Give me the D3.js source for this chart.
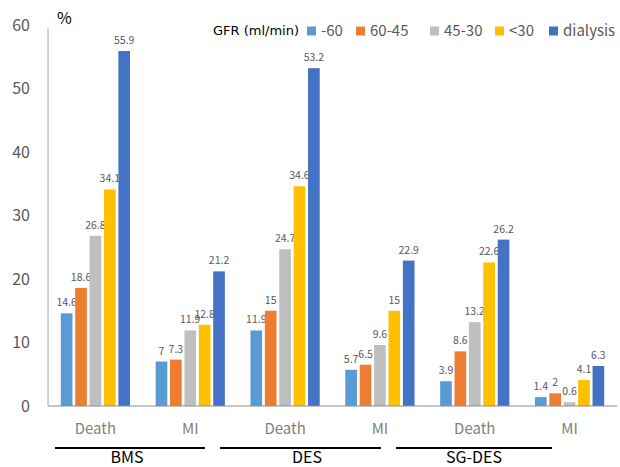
<!DOCTYPE html>
<html><head><meta charset="utf-8">
<script src="https://cdn.jsdelivr.net/npm/d3@7"></script>
<style>body{margin:0;background:#fff}svg{display:block}</style>
</head><body><svg id="c" width="620" height="467"></svg>
<script>
const categories = ["Death","MI","Death","MI","Death","MI"];
const groups = ["BMS","DES","SG-DES"];
const seriesNames = ["-60","60-45","45-30","<30","dialysis"];
const colors = ["#5B9BD5","#ED7D31","#BFBFBF","#FFC000","#4472C4"];
const values = [
  [14.6,18.6,26.8,34.1,55.9],
  [7,7.3,11.9,12.8,21.2],
  [11.9,15,24.7,34.6,53.2],
  [5.7,6.5,9.6,15,22.9],
  [3.9,8.6,13.2,22.6,26.2],
  [1.4,2,0.6,4.1,6.3]
];
const yTicks = [0,10,20,30,40,50,60];

const font = "'Noto Sans CJK JP','DejaVu Sans',sans-serif";
const svg = d3.select("#c");
const x0 = d3.scaleBand().domain(d3.range(categories.length)).range([48,617]).paddingInner(0.27).paddingOuter(0.135);
const x1 = d3.scaleBand().domain(d3.range(seriesNames.length)).range([0,x0.bandwidth()]).paddingInner(0.19).paddingOuter(0);
const y = d3.scaleLinear().domain([0,60]).range([406,25]);

// y axis
const ya = svg.append("g").attr("transform","translate(48,0)")
  .call(d3.axisLeft(y).tickValues(yTicks).tickSize(0).tickPadding(18));
ya.select(".domain").attr("stroke","#a6a6a6").attr("d","M0,28V406");
ya.selectAll("text").attr("font-family",font).attr("font-size",16).attr("fill","#595959");

// bars
const g = svg.append("g");
values.forEach((row,ci)=>{
  row.forEach((v,si)=>{
    const bx = x0(ci)+x1(si);
    g.append("rect").attr("x",bx).attr("width",x1.bandwidth())
      .attr("y",y(v)).attr("height",y(0)-y(v)).attr("fill",colors[si]);
    g.append("text").attr("x",bx+x1.bandwidth()/2).attr("y",y(v)-7)
      .attr("text-anchor","middle").attr("font-family",font).attr("font-size",10.5)
      .attr("fill","#595959").text(v);
  });
});
// baseline
svg.append("line").attr("x1",48).attr("x2",617).attr("y1",y(0)).attr("y2",y(0)).attr("stroke","#8c8c8c").attr("stroke-width",1);

// category labels
categories.forEach((c,ci)=>{
  svg.append("text").attr("x",x0(ci)+x0.bandwidth()/2).attr("y",434)
    .attr("text-anchor","middle").attr("font-family",font).attr("font-size",15)
    .attr("fill","#7f7f7f").text(c);
});
// group lines and labels
const glines = [[55,205],[220,381],[396,552]];
const glabelX = [127,307,474];
groups.forEach((gname,gi)=>{
  svg.append("line").attr("x1",glines[gi][0]).attr("x2",glines[gi][1]).attr("y1",448).attr("y2",448)
    .attr("stroke","#000").attr("stroke-width",2);
  svg.append("text").attr("x",glabelX[gi]).attr("y",463)
    .attr("text-anchor","middle").attr("font-family",font).attr("font-size",16)
    .attr("fill","#000").text(gname);
});

// % label
svg.append("text").attr("x",57).attr("y",24).attr("font-family",font).attr("font-size",16).attr("fill","#000").text("%");

// legend
svg.append("text").attr("x",213).attr("y",35).attr("font-family","'DejaVu Sans',sans-serif").attr("font-size",13).attr("fill","#000").text("GFR (ml/min)");
const legX = [307,356,430,495,549];
seriesNames.forEach((s,si)=>{
  svg.append("rect").attr("x",legX[si]).attr("y",26.5).attr("width",9).attr("height",9).attr("fill",colors[si]);
  svg.append("text").attr("x",legX[si]+14).attr("y",36).attr("font-family",font).attr("font-size",15).attr("fill","#595959").text(s);
});
</script></body></html>
